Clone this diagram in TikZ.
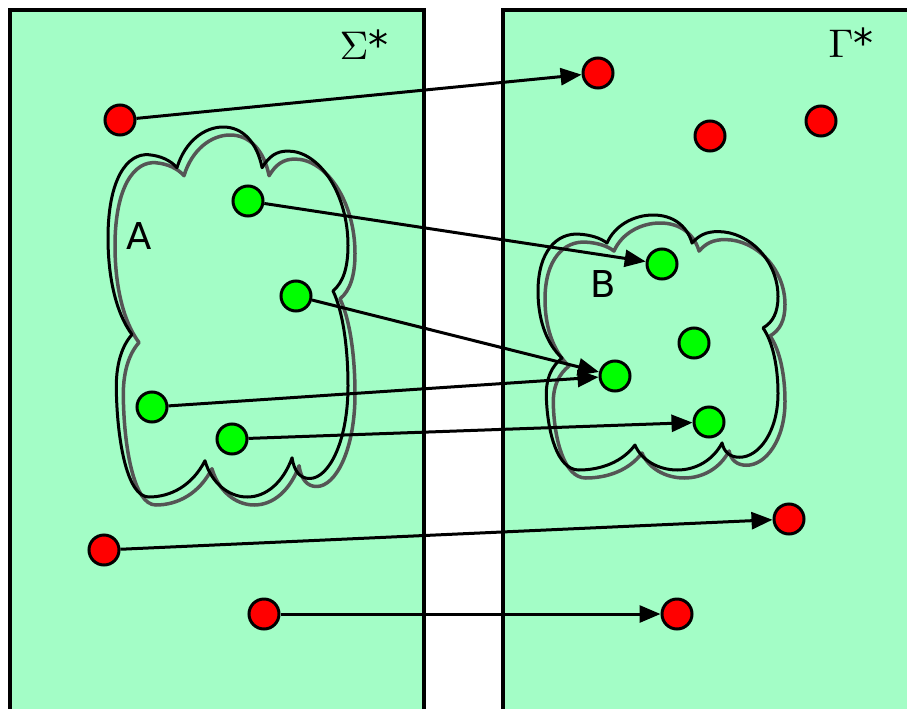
\documentclass[tikz,border=0pt]{standalone}
\usepackage[no-math]{fontspec}
\usepackage{tikz}
\usetikzlibrary{arrows.meta}
\newfontfamily\dejavu{DejaVu Sans}
\definecolor{mint}{RGB}{163,253,198}
\definecolor{shade}{RGB}{85,85,85}

% outline of a blob in the unit square
\newcommand{\blobpath}{(0.1,0.561) .. controls (0.03,0.50) and (0,0.40) .. (0,0.30)
 .. controls (0,0.14) and (0.08,0.07) .. (0.17,0.075)
 .. controls (0.22,0.078) and (0.26,0.09) .. (0.2875,0.11)
 .. controls (0.32,0.04) and (0.40,0) .. (0.48,0)
 .. controls (0.56,0) and (0.62,0.04) .. (0.642,0.11)
 .. controls (0.67,0.08) and (0.70,0.065) .. (0.75,0.065)
 .. controls (0.88,0.065) and (1,0.18) .. (1,0.32)
 .. controls (1,0.38) and (0.98,0.42) .. (0.9375,0.443)
 .. controls (0.98,0.50) and (1,0.60) .. (1,0.70)
 .. controls (1,0.85) and (0.92,0.95) .. (0.84,0.95)
 .. controls (0.80,0.95) and (0.775,0.93) .. (0.767,0.894)
 .. controls (0.73,0.96) and (0.66,1) .. (0.58,1)
 .. controls (0.50,1) and (0.43,0.96) .. (0.404,0.902)
 .. controls (0.35,0.97) and (0.26,1) .. (0.17,1)
 .. controls (0.08,1) and (0.04,0.85) .. (0.035,0.72)
 .. controls (0.03,0.64) and (0.06,0.59) .. cycle}

\begin{document}
\begin{tikzpicture}[x=1pt,y=-1pt,
  panel/.style={draw=black,fill=mint,line width=3.5pt},
  rim/.style={draw=black,line width=3pt,line join=round},
  rimshadow/.style={draw=shade,line width=3.5pt,line join=round},
  reddot/.style={circle,draw=black,fill=red,line width=3pt,minimum size=30pt,inner sep=0pt},
  greendot/.style={circle,draw=black,fill=green,line width=3pt,minimum size=30pt,inner sep=0pt},
  map/.style={-{Triangle[length=21pt,width=17pt]},line width=3pt},
  star/.style={inner sep=0pt,scale=4},
  tag/.style={font=\dejavu\fontsize{37}{37}\selectfont,inner sep=0pt}]
 \useasboundingbox (0,0) rectangle (907,709);
 \clip (0,0) rectangle (907,709);

 \draw[panel] (10,10) rectangle (424,740);
 \draw[panel] (503,10) rectangle (940,740);

 \node[star] (sigma) at (364,45) {$\Sigma$\dejavu*};
 \node[star] (gamma) at (851,43) {$\Gamma$\dejavu*};

 \begin{scope}[shift={(108,127)},x=240pt,y=-370pt]
  \draw[rimshadow,shift={(7pt,-8pt)}] \blobpath;
  \draw[rim] \blobpath;
 \end{scope}
 \begin{scope}[shift={(538,215)},x=240pt,y=-255pt]
  \draw[rimshadow,shift={(7pt,-8pt)}] \blobpath;
  \draw[rim] \blobpath;
 \end{scope}

 \node[tag] (A) at (139,236) {A};
 \node[tag] (B) at (603,284) {B};

 \node[reddot] (s1) at (120,120) {};
 \node[reddot] (s2) at (104,550) {};
 \node[reddot] (s3) at (264,614) {};
 \node[reddot] (t1) at (598,73) {};
 \node[reddot] (t2) at (710,136) {};
 \node[reddot] (t3) at (821,121) {};
 \node[reddot] (t4) at (789,519) {};
 \node[reddot] (t5) at (677,614) {};

 \node[greendot] (a1) at (248,201) {};
 \node[greendot] (a2) at (296,296) {};
 \node[greendot] (a3) at (152,407) {};
 \node[greendot] (a4) at (232,439) {};
 \node[greendot] (b1) at (662,264) {};
 \node[greendot] (b2) at (694,343) {};
 \node[greendot] (b3) at (615,376) {};
 \node[greendot] (b4) at (709,422) {};

 \draw[map] (s1) -- (t1);
 \draw[map] (a1) -- (b1);
 \draw[map] (a2) -- (b3);
 \draw[map] (a3) -- (b3);
 \draw[map] (a4) -- (b4);
 \draw[map] (s2) -- (t4);
 \draw[map] (s3) -- (t5);
\end{tikzpicture}
\end{document}
